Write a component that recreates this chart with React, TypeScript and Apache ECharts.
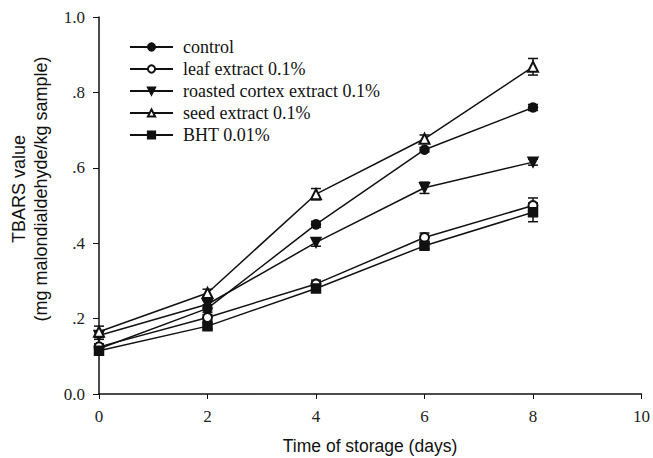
import React, { useEffect, useRef } from "react";
import * as echarts from "echarts";

const days = [0, 2, 4, 6, 8];
const control = [0.12, 0.227, 0.45, 0.648, 0.76];
const leaf = [0.125, 0.203, 0.292, 0.415, 0.5];
const roasted = [0.155, 0.238, 0.402, 0.547, 0.615];
const seed = [0.165, 0.268, 0.53, 0.677, 0.868];
const bht = [0.115, 0.18, 0.28, 0.393, 0.482];

const controlErr = [0.01, 0.01, 0.008, 0.006, 0.008];
const leafErr = [0.008, 0.008, 0.01, 0.012, 0.02];
const roastedErr = [0.01, 0.01, 0.01, 0.015, 0.008];
const seedErr = [0.015, 0.01, 0.015, 0.01, 0.022];
const bhtErr = [0.01, 0.008, 0.01, 0.008, 0.025];

const seriesNames = [
  "control",
  "leaf extract 0.1%",
  "roasted cortex extract 0.1%",
  "seed extract 0.1%",
  "BHT 0.01%",
];
const xTitle = "Time of storage (days)";
const yTitle1 = "TBARS value";
const yTitle2 = "(mg malondialdehyde/kg sample)";

const SERIF = "Liberation Serif";
const SANS = "Liberation Sans";

export default function App() {
  const ref = useRef<HTMLDivElement>(null);
  useEffect(() => {
    if (!ref.current) return;
    const chart = echarts.init(ref.current, undefined, { renderer: "svg" });
    const values = [control, leaf, roasted, seed, bht];
    const errs = [controlErr, leafErr, roastedErr, seedErr, bhtErr];
    const symbols = ["circle", "emptyCircle", "triangle", "emptyTriangle", "rect"];
    const sizes = [9, 9, 10, 10, 9];
    const rotates = [0, 0, 180, 0, 0];

    const lineSeries = values.map((vals, i) => ({
      name: seriesNames[i],
      type: "line",
      data: days.map((d, j) => [d, vals[j]]),
      symbol: symbols[i],
      symbolSize: sizes[i],
      symbolRotate: rotates[i],
      showAllSymbol: true,
      lineStyle: { color: "#111", width: 1.5 },
      itemStyle: { color: "#111", borderColor: "#111", borderWidth: 1.5 },
      z: 3,
    }));

    const errSeries = values.map((vals, i) => ({
      name: seriesNames[i] + " err",
      type: "custom",
      data: days.map((d, j) => [d, vals[j] - errs[i][j], vals[j] + errs[i][j]]),
      encode: { x: 0, y: [1, 2] },
      z: 2,
      renderItem: (params: any, api: any) => {
        const x = api.value(0);
        const lo = api.coord([x, api.value(1)]);
        const hi = api.coord([x, api.value(2)]);
        const hw = 5;
        const st = { stroke: "#111", lineWidth: 1.5 };
        return {
          type: "group",
          children: [
            { type: "line", shape: { x1: lo[0], y1: lo[1], x2: hi[0], y2: hi[1] }, style: st },
            { type: "line", shape: { x1: lo[0] - hw, y1: lo[1], x2: lo[0] + hw, y2: lo[1] }, style: st },
            { type: "line", shape: { x1: hi[0] - hw, y1: hi[1], x2: hi[0] + hw, y2: hi[1] }, style: st },
          ],
        };
      },
    }));

    chart.setOption({
      animation: false,
      backgroundColor: "#fff",
      grid: { left: 99, right: 8, top: 17, bottom: 64 },
      legend: {
        data: seriesNames,
        orient: "vertical",
        left: 124,
        top: 33,
        itemWidth: 43,
        itemHeight: 9,
        itemGap: 4,
        textStyle: { fontFamily: SERIF, fontSize: 18, color: "#111", padding: [0, 0, 0, 5] },
      },
      xAxis: {
        type: "value",
        min: 0,
        max: 10,
        interval: 2,
        splitLine: { show: false },
        axisLine: { lineStyle: { color: "#111", width: 1.5 } },
        axisTick: { inside: false, length: 5, lineStyle: { color: "#111" } },
        axisLabel: { fontFamily: SERIF, fontSize: 17, color: "#222", margin: 14 },
      },
      yAxis: {
        type: "value",
        min: 0,
        max: 1,
        interval: 0.2,
        splitLine: { show: false },
        axisLine: { show: true, lineStyle: { color: "#111", width: 1.5 } },
        axisTick: { show: true, inside: false, length: 6, lineStyle: { color: "#111" } },
        axisLabel: {
          fontFamily: SERIF,
          fontSize: 17,
          color: "#222",
          margin: 14,
          formatter: (v: number) => {
            if (Math.abs(v) < 1e-9) return "0.0";
            if (Math.abs(v - 1) < 1e-9) return "1.0";
            return "." + Math.round(v * 10);
          },
        },
      },
      graphic: [
        {
          type: "text",
          x: 370,
          y: 446,
          style: { text: xTitle, fontFamily: SANS, fontSize: 17.5, fill: "#111", align: "center", verticalAlign: "middle" },
        },
        {
          type: "text",
          x: 19,
          y: 189,
          rotation: Math.PI / 2,
          style: { text: yTitle1, fontFamily: SANS, fontSize: 18, fill: "#111", align: "center", verticalAlign: "middle" },
        },
        {
          type: "text",
          x: 41,
          y: 189,
          rotation: Math.PI / 2,
          style: { text: yTitle2, fontFamily: SANS, fontSize: 18, fill: "#111", align: "center", verticalAlign: "middle" },
        },
      ],
      series: [...errSeries, ...lineSeries],
    });
    return () => chart.dispose();
  }, []);
  return <div ref={ref} style={{ position: "fixed", left: 0, top: 0, width: 653, height: 458 }} />;
}
